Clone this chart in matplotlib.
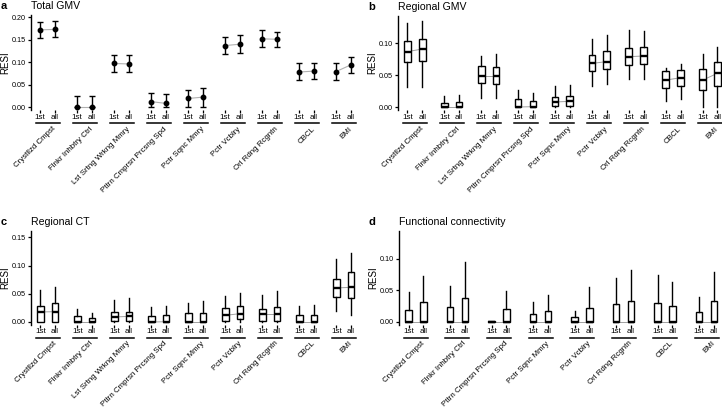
import matplotlib.pyplot as plt
from matplotlib.transforms import blended_transform_factory

plt.rcParams['font.family'] = ['Liberation Sans', 'DejaVu Sans']

W, H = 722, 408

groups = ['Crystllzd Cmpst', 'Flnkr Inhbtry Ctrl', 'Lst Srtng Wrkng Mmry',
          'Pttrn Cmprsn Prcsng Spd', 'Pctr Sqnc Mmry', 'Pctr Vcblry',
          'Orl Rdng Rcgntn', 'CBCL', 'BMI']
groups_fc = ['Crystllzd Cmpst', 'Flnkr Inhbtry Ctrl', 'Pttrn Cmprsn Prcsng Spd',
             'Pctr Sqnc Mmry', 'Pctr Vcblry', 'Orl Rdng Rcgntn', 'CBCL', 'BMI']
fits = ['1st', 'all']

# a: total GMV, estimate with CI
a_first = [0.172, 0.000, 0.097, 0.012, 0.019, 0.137, 0.152, 0.078, 0.079]
a_first_lo = [0.154, 0.000, 0.079, 0.000, 0.000, 0.118, 0.134, 0.060, 0.060]
a_first_hi = [0.190, 0.025, 0.116, 0.032, 0.039, 0.155, 0.171, 0.097, 0.097]
a_all = [0.173, 0.000, 0.096, 0.008, 0.022, 0.140, 0.151, 0.080, 0.094]
a_all_lo = [0.155, 0.000, 0.077, 0.000, 0.000, 0.121, 0.133, 0.062, 0.075]
a_all_hi = [0.192, 0.025, 0.115, 0.028, 0.042, 0.160, 0.168, 0.099, 0.112]

# b: regional GMV  (whisker lo, q1, median, q3, whisker hi)
b_first = [(0.031, 0.070, 0.0865, 0.1036, 0.132),
           (0.0, 0.0, 0.0, 0.0068, 0.017),
           (0.0135, 0.037, 0.049, 0.0646, 0.0797),
           (0.0, 0.0, 0.0, 0.012, 0.026),
           (0.0, 0.0016, 0.0078, 0.016, 0.033),
           (0.033, 0.057, 0.068, 0.082, 0.106),
           (0.043, 0.0656, 0.0786, 0.0927, 0.120),
           (0.0099, 0.030, 0.042, 0.0557, 0.0615),
           (0.0, 0.0266, 0.042, 0.0589, 0.083)]
b_all = [(0.031, 0.0724, 0.0906, 0.1068, 0.135),
         (0.0, 0.0, 0.0, 0.0073, 0.018),
         (0.0135, 0.036, 0.049, 0.063, 0.083),
         (0.0, 0.0, 0.0005, 0.0094, 0.022),
         (0.0, 0.002, 0.0089, 0.0177, 0.034),
         (0.036, 0.059, 0.071, 0.088, 0.1125),
         (0.043, 0.0667, 0.0797, 0.094, 0.119),
         (0.012, 0.0333, 0.0458, 0.0573, 0.0667),
         (0.0, 0.0328, 0.0526, 0.070, 0.094)]

# c: regional CT
c_first = [(0.0, 0.0, 0.0178, 0.0284, 0.0568),
           (0.0, 0.0, 0.0, 0.010, 0.023),
           (0.0, 0.001, 0.0089, 0.017, 0.0396),
           (0.0, 0.0, 0.0, 0.010, 0.026),
           (0.0, 0.0, 0.0, 0.0154, 0.0337),
           (0.0, 0.001, 0.0118, 0.0249, 0.046),
           (0.0, 0.001, 0.0136, 0.0225, 0.0485),
           (0.0, 0.0, 0.0, 0.013, 0.0284),
           (0.020, 0.045, 0.0604, 0.0763, 0.112)]
c_all = [(0.0, 0.0, 0.0183, 0.0343, 0.0615),
         (0.0, 0.0, 0.0, 0.0077, 0.016),
         (0.0, 0.001, 0.010, 0.0178, 0.0426),
         (0.0, 0.0, 0.0005, 0.0118, 0.029),
         (0.0, 0.0, 0.0, 0.0154, 0.0379),
         (0.0, 0.0053, 0.0148, 0.0284, 0.052),
         (0.0, 0.001, 0.0136, 0.0272, 0.0556),
         (0.0, 0.0, 0.0, 0.013, 0.0296),
         (0.013, 0.0426, 0.0615, 0.088, 0.122)]

# d: functional connectivity
d_first = [(0.0, 0.0, 0.0, 0.0195, 0.047),
           (0.0, 0.0, 0.0, 0.0237, 0.0563),
           (0.0, 0.0, 0.0, 0.001, 0.002),
           (0.0, 0.0, 0.0, 0.013, 0.0316),
           (0.0, 0.0, 0.0, 0.0084, 0.0174),
           (0.0, 0.0, 0.0, 0.029, 0.0695),
           (0.0, 0.0, 0.0, 0.030, 0.0747),
           (0.0, 0.0, 0.0, 0.0163, 0.039)]
d_all = [(0.0, 0.0, 0.0, 0.0316, 0.072),
         (0.0, 0.0, 0.0, 0.0384, 0.0947),
         (0.0, 0.0, 0.0, 0.020, 0.0484),
         (0.0, 0.0, 0.0, 0.0174, 0.043),
         (0.0, 0.0, 0.0, 0.0226, 0.0553),
         (0.0, 0.0, 0.0, 0.0332, 0.0826),
         (0.0, 0.0, 0.0, 0.0258, 0.0637),
         (0.0, 0.0, 0.0, 0.0332, 0.0795)]

fig = plt.figure(figsize=(W / 100, H / 100), dpi=100)


def make_panel(left, top, right, bottom, c0, step, names, y0_px, y_per_unit,
               yticks, letter, title):
    # everything positioned in pixels of the reference, converted here
    ax = fig.add_axes([left / W, 1 - bottom / H, (right - left) / W, (bottom - top) / H])
    ax.set_xlim((left - c0) / step, (right - c0) / step)
    ax.set_ylim((y0_px - bottom) / y_per_unit, (y0_px - top) / y_per_unit)
    off = 7.4 / step
    n = len(names)
    xs = []
    labs = []
    for i in range(n):
        xs += [i - off, i + off]
        labs += fits
    ax.set_xticks(xs)
    ax.set_xticklabels(labs, fontsize=5.8)
    ax.set_yticks(yticks)
    ax.set_yticklabels(['%.2f' % t for t in yticks], fontsize=5.2)
    ax.tick_params(axis='x', length=2.2, width=0.9, pad=0.4)
    ax.tick_params(axis='y', length=2.4, width=0.9, pad=1.2)
    for s in ['top', 'right', 'bottom']:
        ax.spines[s].set_visible(False)
    ax.spines['left'].set_linewidth(1.0)
    ax.set_ylabel('RESI', fontsize=7, labelpad=1.2)
    tr = blended_transform_factory(ax.transData, ax.transAxes)
    h = bottom - top
    uy = -13 / h
    ty = -15.5 / h
    u = 12 / step
    for i, name in enumerate(names):
        ax.plot([i - u, i + u], [uy, uy], color='black', lw=1.1,
                transform=tr, clip_on=False)
        ax.text(i + 5 / step, ty, name, rotation=45, ha='right', va='top',
                rotation_mode='anchor', fontsize=5.7, transform=tr)
    fig.text((left - 30) / W, 1 - (top - 9) / H, letter, fontsize=8,
             fontweight='bold', va='center', ha='left')
    fig.text(left / W, 1 - (top - 9) / H, title, fontsize=7.6,
             va='center', ha='left')
    return ax, off


def draw_boxes(ax, off, first, second):
    for i in range(len(first)):
        stats = []
        for s in (first[i], second[i]):
            stats.append(dict(whislo=s[0], q1=s[1], med=s[2], q3=s[3], whishi=s[4]))
        ax.plot([i - off, i + off], [first[i][2], second[i][2]],
                color='#a0a0a0', lw=0.7, zorder=1)
        ax.bxp(stats, positions=[i - off, i + off], widths=0.45 * 2 * off,
               showfliers=False, showcaps=False, patch_artist=True,
               boxprops=dict(facecolor='white', edgecolor='black', lw=1.0),
               whiskerprops=dict(color='black', lw=1.0),
               medianprops=dict(color='black', lw=1.7),
               manage_ticks=False, zorder=2)


# a
ax_a, off_a = make_panel(31, 15, 362, 110, 47.5, 37, groups, 107, 448.5,
                         [0, 0.05, 0.10, 0.15, 0.20], 'a', 'Total GMV')
xa = range(len(groups))
for i in xa:
    ax_a.plot([i - off_a, i + off_a], [a_first[i], a_all[i]], color='#b0b0b0',
              lw=0.8, zorder=1)
ax_a.errorbar([i - off_a for i in xa], a_first,
              yerr=[[a_first[i] - a_first_lo[i] for i in xa], [a_first_hi[i] - a_first[i] for i in xa]],
              fmt='o', color='black', ms=3.2, elinewidth=1.0, capsize=2.4, capthick=1.0)
ax_a.errorbar([i + off_a for i in xa], a_all,
              yerr=[[a_all[i] - a_all_lo[i] for i in xa], [a_all_hi[i] - a_all[i] for i in xa]],
              fmt='o', color='black', ms=3.2, elinewidth=1.0, capsize=2.4, capthick=1.0)

# b
ax_b, off_b = make_panel(398, 16, 722, 110, 414.8, 36.9, groups, 107, 640,
                         [0, 0.05, 0.10], 'b', 'Regional GMV')
draw_boxes(ax_b, off_b, b_first, b_all)

# c
ax_c, off_c = make_panel(31, 230.7, 362, 324.5, 47.7, 37, groups, 322, 564,
                         [0, 0.05, 0.10, 0.15], 'c', 'Regional CT')
draw_boxes(ax_c, off_c, c_first, c_all)

# d
ax_d, off_d = make_panel(398.7, 230.7, 722, 324.5, 416, 41.5, groups_fc, 322, 633,
                         [0, 0.05, 0.10], 'd', 'Functional connectivity')
draw_boxes(ax_d, off_d, d_first, d_all)

fig.savefig('out.png', dpi=100)
